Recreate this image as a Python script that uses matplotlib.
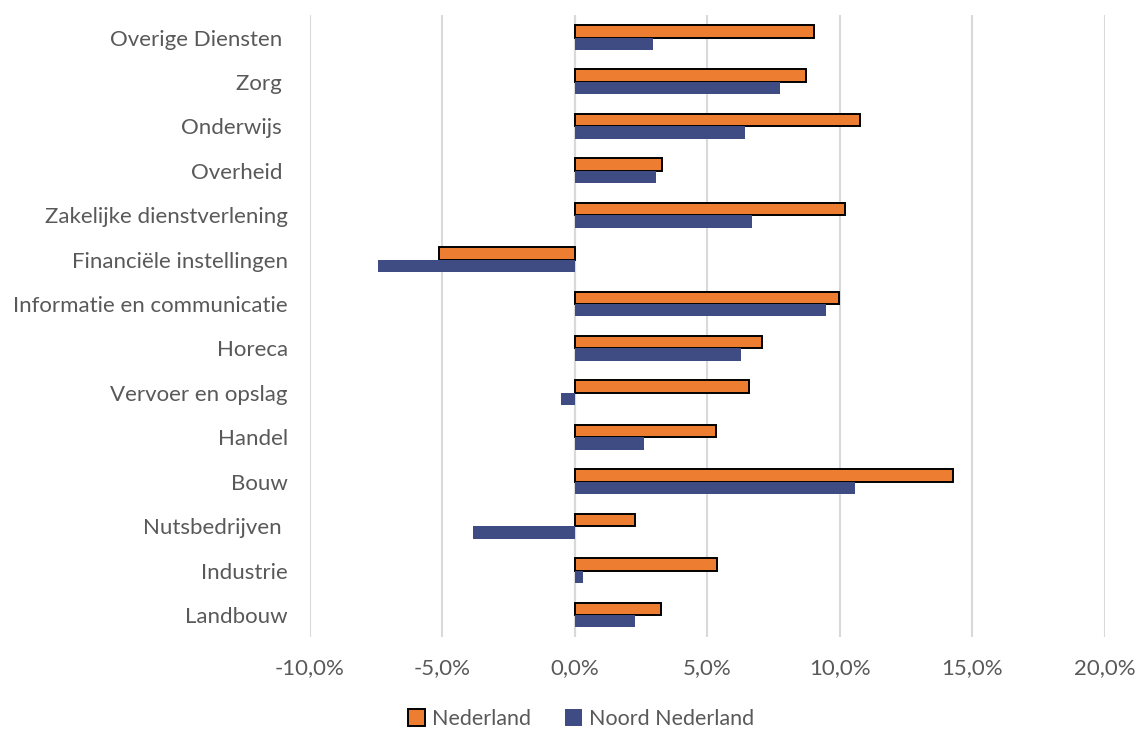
import matplotlib
matplotlib.use("Agg")
import matplotlib.pyplot as plt
import numpy as np
from matplotlib.ticker import FuncFormatter

categories = ["Landbouw", "Industrie", "Nutsbedrijven ", "Bouw", "Handel", "Vervoer en opslag",
              "Horeca", "Informatie en communicatie", "Financiële instellingen",
              "Zakelijke dienstverlening", "Overheid ", "Onderwijs ", "Zorg ", "Overige Diensten "]
nederland = [3.25, 5.34, 2.27, 14.27, 5.32, 6.56, 7.07, 9.98, -5.15, 10.17, 3.30, 10.74, 8.73, 9.03]
noord_nederland = [2.25, 0.29, -3.86, 10.58, 2.62, -0.53, 6.28, 9.48, -7.45, 6.69, 3.07, 6.42, 7.75, 2.96]
xticks = [-10, -5, 0, 5, 10, 15, 20]

plt.rcParams['font.family'] = ['Lato', 'DejaVu Sans']

fig = plt.figure(figsize=(11.38, 7.29), dpi=100)
ax = fig.add_axes([0.2724, 0.126, 0.6986, 0.853])

y = np.arange(len(categories))
h = 0.28
ax.barh(y + h / 2, nederland, height=h, color='#ED7D31', edgecolor='black', linewidth=1.4,
        label='Nederland', zorder=3)
ax.barh(y - h / 2, noord_nederland, height=h, color='#3F4B83', edgecolor='none',
        label='Noord Nederland', zorder=3)

ax.set_xlim(-10, 20)
ax.set_ylim(-0.5, 13.5)
ax.set_xticks(xticks)
ax.xaxis.set_major_formatter(FuncFormatter(lambda v, p: f"{v:.1f}%".replace('.', ',')))
ax.set_yticks(y)
ax.set_yticklabels(categories)
ax.grid(axis='x', color='#D9D9D9', linewidth=1.5, zorder=0)
ax.axvline(0, color='#D9D9D9', linewidth=1.5, zorder=1)
for s in ax.spines.values():
    s.set_visible(False)
ax.tick_params(axis='both', length=0, colors='#595959', labelsize=16)
ax.tick_params(axis='y', pad=16)
ax.tick_params(axis='x', pad=15)

fig.legend(handles=ax.get_legend_handles_labels()[0], labels=ax.get_legend_handles_labels()[1],
           loc='center', bbox_to_anchor=(581 / 1138, 1 - 719 / 729), ncol=2, frameon=False,
           fontsize=15.5, handlelength=0.8, handleheight=0.8, handletextpad=0.3,
           columnspacing=1.6, labelcolor='#595959', borderpad=0.1)

fig.savefig('out.png', dpi=100)
